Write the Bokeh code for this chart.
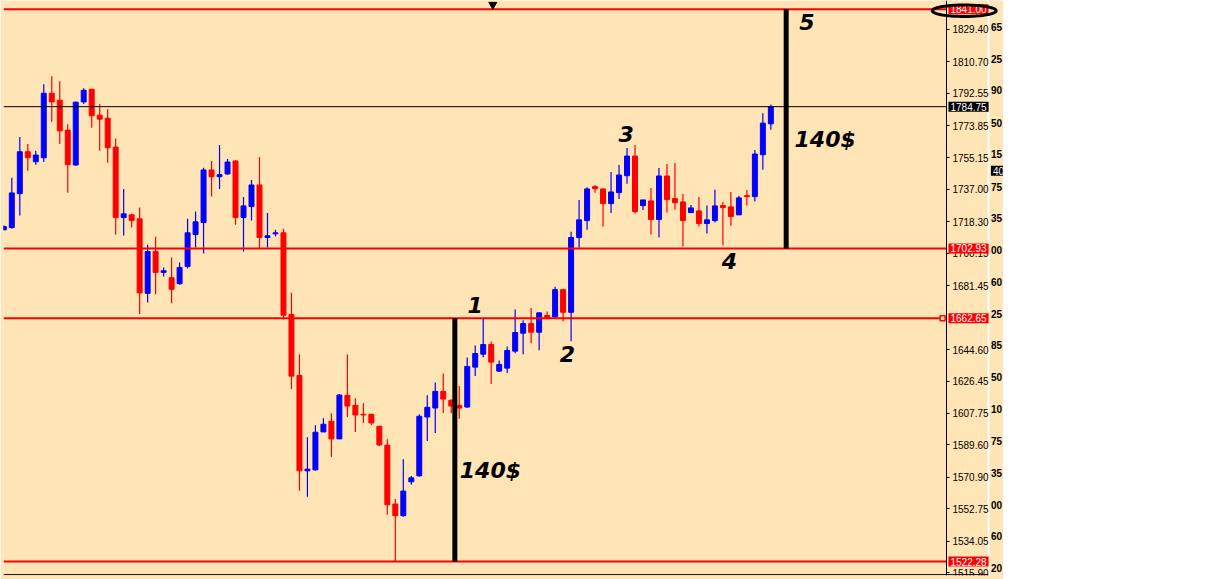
import numpy as np
from bokeh.plotting import figure
from bokeh.models import (ColumnDataSource, Range1d, LinearAxis, FixedTicker, Span, Label,
                          PolyAnnotation, NumeralTickFormatter, CustomJSTickFormatter)
from bokeh.core.properties import value
from bokeh.embed import file_html
from bokeh.resources import INLINE

# ---------------- data ----------------
opens = [1713.69, 1715.01, 1734.57, 1758.74, 1752.98, 1755.28, 1792.51, 1788.48, 1771.22, 1751.09,
         1787.50, 1794.81, 1779.85, 1778.12, 1761.44, 1720.77, 1722.32, 1720.02, 1677.04, 1701.21,
         1689.13, 1686.08, 1682.62, 1692.58, 1710.99, 1717.89, 1748.21, 1744.35, 1745.91, 1753.39,
         1720.77, 1727.10, 1739.58, 1709.26, 1711.39, 1711.97, 1664.79, 1629.70, 1574.64, 1575.22,
         1597.08, 1603.23, 1593.05, 1618.19, 1612.44, 1607.26, 1607.26, 1600.36, 1589.43, 1555.48,
         1548.75, 1568.31, 1571.76, 1605.71, 1610.88, 1620.49, 1615.31, 1612.44, 1611.46, 1634.47,
         1641.95, 1647.53, 1632.17, 1633.90, 1643.68, 1654.03, 1659.61, 1654.61, 1664.22, 1663.47,
         1679.17, 1666.11, 1709.26, 1719.04, 1738.60, 1737.28, 1728.82, 1735.15, 1744.93, 1756.26,
         1727.67, 1730.37, 1719.62, 1744.76, 1731.70, 1729.80, 1723.64, 1724.62, 1717.32, 1719.04,
         1727.67, 1726.92, 1722.32, 1733.42, 1732.85, 1757.01, 1774.85]
highs = [1716.28, 1743.78, 1767.19, 1763.17, 1759.31, 1797.68, 1802.29, 1799.41, 1774.67, 1787.73,
         1795.38, 1794.81, 1786.35, 1783.30, 1766.45, 1737.28, 1722.90, 1726.52, 1705.06, 1709.66,
         1692.00, 1697.76, 1694.88, 1720.02, 1724.22, 1749.53, 1753.39, 1762.59, 1754.54, 1753.96,
         1732.68, 1742.46, 1755.69, 1723.47, 1713.69, 1714.27, 1677.45, 1641.78, 1594.03, 1600.93,
         1604.96, 1607.84, 1618.94, 1641.78, 1616.47, 1613.59, 1607.26, 1600.36, 1592.88, 1558.36,
         1581.37, 1571.59, 1607.26, 1618.19, 1625.67, 1630.85, 1615.89, 1623.54, 1640.05, 1646.96,
         1662.32, 1649.26, 1638.33, 1646.38, 1667.67, 1661.51, 1668.64, 1666.34, 1666.52, 1680.90,
         1679.75, 1712.54, 1730.95, 1738.26, 1739.58, 1737.68, 1747.06, 1751.09, 1760.87, 1762.59,
         1730.95, 1737.85, 1749.36, 1751.66, 1752.24, 1734.40, 1728.07, 1732.68, 1727.67, 1736.88,
         1729.80, 1735.55, 1733.25, 1736.70, 1759.71, 1781.00, 1786.01]
lows = [1713.40, 1714.27, 1721.92, 1747.81, 1751.26, 1752.81, 1776.00, 1763.17, 1735.15, 1750.68,
        1786.35, 1772.54, 1759.31, 1752.41, 1710.99, 1710.41, 1715.01, 1665.19, 1671.69, 1676.47,
        1686.82, 1671.29, 1682.05, 1691.43, 1703.51, 1700.06, 1732.85, 1737.28, 1745.51, 1716.57,
        1701.21, 1719.04, 1703.16, 1703.51, 1709.84, 1661.91, 1621.82, 1563.14, 1559.68, 1574.64,
        1597.08, 1582.70, 1593.05, 1605.71, 1597.08, 1602.26, 1601.10, 1589.02, 1549.33, 1522.28,
        1548.18, 1566.59, 1571.19, 1591.90, 1596.50, 1608.01, 1608.01, 1604.67, 1610.88, 1629.29,
        1640.23, 1624.69, 1631.60, 1631.02, 1642.53, 1641.95, 1648.28, 1644.25, 1662.66, 1662.89,
        1660.94, 1649.43, 1703.34, 1713.69, 1735.15, 1715.59, 1723.47, 1731.53, 1740.33, 1723.07,
        1725.20, 1710.99, 1709.26, 1723.64, 1725.37, 1704.08, 1723.47, 1715.59, 1711.56, 1717.89,
        1704.66, 1715.99, 1722.32, 1727.67, 1729.97, 1748.38, 1771.39]
closes = [1715.59, 1734.98, 1758.74, 1755.28, 1756.84, 1792.51, 1787.50, 1770.82, 1751.26, 1787.33,
          1794.23, 1779.45, 1777.55, 1761.04, 1720.77, 1722.90, 1719.04, 1677.27, 1701.21, 1689.13,
          1690.10, 1679.35, 1692.00, 1711.97, 1718.29, 1748.21, 1744.35, 1745.51, 1752.81, 1720.77,
          1727.50, 1739.58, 1709.26, 1710.24, 1711.97, 1664.39, 1629.29, 1574.64, 1575.62, 1596.91,
          1601.51, 1593.05, 1618.36, 1612.04, 1606.86, 1606.86, 1602.26, 1589.60, 1555.08, 1548.75,
          1562.96, 1570.61, 1606.11, 1611.29, 1620.49, 1616.06, 1612.04, 1610.88, 1634.87, 1642.35,
          1647.53, 1637.35, 1636.03, 1644.08, 1654.44, 1659.61, 1654.61, 1665.77, 1663.06, 1679.17,
          1666.11, 1709.26, 1719.44, 1737.28, 1737.45, 1728.82, 1735.55, 1745.33, 1756.26, 1724.22,
          1730.95, 1719.62, 1744.76, 1731.12, 1729.40, 1719.04, 1726.35, 1717.32, 1719.44, 1727.50,
          1726.52, 1721.34, 1732.10, 1732.85, 1757.41, 1775.25, 1784.75]

price_ticks = [1829.40, 1810.70, 1792.55, 1773.85, 1755.15, 1737.00, 1718.30, 1700.15, 1681.45,
               1644.60, 1626.45, 1607.75, 1589.60, 1570.90, 1552.75, 1534.05, 1515.90]
side_ticks = [1830.65, 1812.07, 1794.23, 1775.42, 1757.41, 1738.26, 1720.42, 1702.18, 1683.37,
              1665.19, 1647.13, 1628.95, 1610.14, 1591.73, 1573.32, 1555.08, 1536.90, 1518.66]
side_labels = ["65", "25", "90", "50", "15", "75", "35", "00", "60", "25", "85", "50", "10",
               "75", "35", "00", "60", "20"]
side_box = (1747.81, "40")

red_levels = [1841.00, 1702.93, 1662.65, 1522.28]
current_price = closes[-1]

measure_x = [56.45, 97.92]
measure_from = [1522.28, 1702.93]
measure_to = [1662.65, 1841.00]

wave_text = ["1", "2", "3", "4", "5", "140$", "140$"]
wave_x = [59.0, 70.55, 77.9, 90.8, 100.5, 60.9, 102.8]
wave_y = [1670.5, 1641.8, 1768.9, 1695.9, 1833.4, 1575.0, 1766.0]

# ---------------- layout constants ----------------
BG = "#FFE4B5"
UP, DOWN = "#0000FF", "#FF0000"
X0, X1 = -0.04, 125.12          # frame covers the chart and the scale strip
AXIS_X = 117.98                 # position of the price scale line
SIDE_X = 123.30                 # position of the cut-off second scale
Y0, Y1 = 1514.24, 1846.01

idx = list(range(len(opens)))
color = [UP if c >= o else DOWN for o, c in zip(opens, closes)]
src = ColumnDataSource(dict(
    x=idx, o=opens, h=highs, l=lows, c=closes,
    top=[max(o, c) for o, c in zip(opens, closes)],
    bottom=[min(o, c) for o, c in zip(opens, closes)],
    color=color))

p = figure(width=1003, height=579,
           x_range=Range1d(X0, X1), y_range=Range1d(Y0, Y1),
           y_axis_location="right", x_axis_location=None,
           toolbar_location=None, output_backend="svg",
           background_fill_color=BG, border_fill_color=BG,
           min_border_left=3, min_border_right=0, min_border_top=0, min_border_bottom=4,
           outline_line_color=None)
p.xgrid.visible = False
p.ygrid.visible = False

# white separator between the two scales
p.add_layout(Span(location=SIDE_X - 0.06, dimension="height", line_color="white",
                  line_width=2, level="underlay"))

# price axis
ax = p.yaxis[0]
ax.fixed_location = AXIS_X
ax.ticker = FixedTicker(ticks=price_ticks)
ax.formatter = NumeralTickFormatter(format="0.00")
ax.axis_line_color = "black"
ax.axis_line_width = 1
ax.major_tick_in = 0
ax.major_tick_out = 3
ax.major_tick_line_color = "black"
ax.minor_tick_line_color = None
ax.major_label_standoff = 3
ax.major_label_text_font = "Liberation Sans"
ax.major_label_text_font_size = "10px"
ax.major_label_text_color = "black"

# second (cut-off) scale column
ax2 = LinearAxis(fixed_location=SIDE_X, ticker=FixedTicker(ticks=side_ticks),
                 formatter=CustomJSTickFormatter(
                     args=dict(t=side_ticks, lab=side_labels),
                     code="""
let best = 0, d = 1e9;
for (let i = 0; i < t.length; i++) { const e = Math.abs(t[i] - tick); if (e < d) { d = e; best = i; } }
return lab[best];
"""))
ax2.axis_line_color = None
ax2.major_tick_line_color = None
ax2.minor_tick_line_color = None
ax2.major_tick_in = 0
ax2.major_tick_out = 0
ax2.minor_tick_in = 0
ax2.minor_tick_out = 0
ax2.major_label_standoff = 2
ax2.major_label_text_font = "Liberation Sans"
ax2.major_label_text_font_size = "10px"
ax2.major_label_text_font_style = "bold"
ax2.major_label_text_color = "black"
p.add_layout(ax2, "right")

# candles
p.segment(x0="x", x1="x", y0="l", y1="h", color="color", line_width=1.2, source=src)
p.vbar(x="x", top="top", bottom="bottom", width=0.62, fill_color="color",
       line_color="color", line_width=1, source=src)

# horizontal levels (end at the price scale)
n = len(red_levels)
p.segment(x0=[X0] * n, x1=[AXIS_X] * n, y0=red_levels, y1=red_levels,
          line_color="#FF0000", line_width=2)
p.segment(x0=[X0], x1=[AXIS_X], y0=[current_price], y1=[current_price],
          line_color="black", line_width=1)
p.segment(x0=[X0], x1=[SIDE_X - 0.1], y0=[Y0 + 0.5], y1=[Y0 + 0.5],
          line_color="black", line_width=1)

# measuring bars
p.segment(x0=measure_x, x1=measure_x, y0=measure_from, y1=measure_to,
          line_color="black", line_width=5)

# wave labels
p.text(x=wave_x, y=wave_y, text=wave_text, text_font=value("DejaVu Sans"),
       text_font_style="bold italic", text_font_size="22px", text_color="black",
       text_align="center", text_baseline="middle")

# markers
p.scatter(x=[117.5], y=[1662.65], marker="square", size=5, fill_color=BG,
          line_color="#FF0000", line_width=1.5)
p.scatter(x=[61.2], y=[1843.6], marker="inverted_triangle", size=8, color="black")

# price boxes on the scale
def box(y, txt, bg, x=AXIS_X + 0.25):
    p.add_layout(Label(x=x, y=y, text=txt, text_align="left", text_baseline="middle",
                       text_color="white", text_font="Liberation Sans",
                       text_font_size="10px", background_fill_color=bg,
                       padding=dict(left=2, right=2, top=1, bottom=1)))

for lv in red_levels:
    box(lv, f"{lv:.2f}", "#FF0000")
box(current_price, f"{current_price:.2f}", "black")
box(side_box[0], side_box[1], "black", x=SIDE_X + 0.25)

# ellipse around the top box
t = np.linspace(0, 2 * np.pi, 80)
p.add_layout(PolyAnnotation(xs=list(120.2 + 4.0 * np.cos(t)), ys=list(1840.1 + 3.3 * np.sin(t)),
                            fill_alpha=0, line_color="black", line_alpha=1.0, line_width=3))

open("out.html", "w").write(file_html(p, INLINE))
